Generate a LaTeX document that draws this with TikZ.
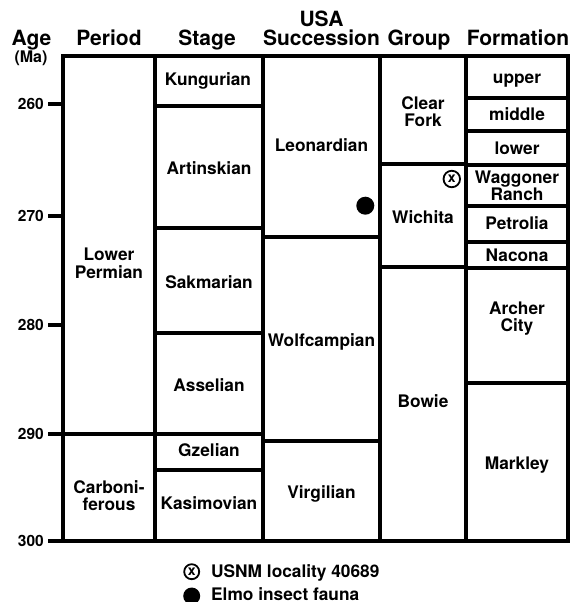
\documentclass[tikz,border=0pt]{standalone}
\usepackage{fontspec}
\setmainfont{TeX Gyre Heros}
\begin{document}
\begin{tikzpicture}[x=1pt,y=-1pt,
  frame/.style={line width=3.3pt, line join=miter},
  lab/.style={font=\fontsize{17.3}{17.3}\selectfont\bfseries, align=center, inner sep=0pt, anchor=base},
  head/.style={font=\fontsize{21}{18.8}\selectfont\bfseries, align=center, inner sep=0pt, anchor=base},
  ticklab/.style={font=\fontsize{15.5}{16}\selectfont\bfseries, inner sep=0pt, anchor=east, text depth=0pt},
  locsym/.style={circle, draw, line width=1.8pt, minimum size=16.5pt, inner sep=0pt, font=\fontsize{14}{14}\selectfont\bfseries},
  dotsym/.style={circle, fill, minimum size=18pt, inner sep=0pt},
]
\useasboundingbox (0,0) rectangle (573,602);

% headers
\node[head] (hAge) at (31.5,46) {Age};
\node[head, font=\fontsize{16}{16}\selectfont\bfseries] (hMa) at (31,63) {(Ma)};
\node[head] (hPeriod) at (109,46) {Period};
\node[head] (hStage) at (207,46) {Stage};
\node[head] (hUSA) at (321.5,45.7) {USA\\Succession};
\node[head] (hGroup) at (419,46) {Group};
\node[head] (hForm) at (518,46) {Formation};

% period
\draw[frame] (63,56) rectangle (155,434);
\draw[frame] (63,434) rectangle (155,541);
% stage
\draw[frame] (155,56) rectangle (263,106);
\draw[frame] (155,106) rectangle (263,228);
\draw[frame] (155,228) rectangle (263,333);
\draw[frame] (155,333) rectangle (263,434);
\draw[frame] (155,434) rectangle (263,470);
\draw[frame] (155,470) rectangle (263,541);
% USA succession
\draw[frame] (263,56) rectangle (380,237);
\draw[frame] (263,237) rectangle (380,441);
\draw[frame] (263,441) rectangle (380,541);
% group
\draw[frame] (380,56) rectangle (466,164);
\draw[frame] (380,164) rectangle (466,267);
\draw[frame] (380,267) rectangle (466,541);
% formation
\draw[frame] (466,56) rectangle (568,98);
\draw[frame] (466,98) rectangle (568,131);
\draw[frame] (466,131) rectangle (568,165);
\draw[frame] (466,165) rectangle (568,206);
\draw[frame] (466,206) rectangle (568,242);
\draw[frame] (466,242) rectangle (568,268);
\draw[frame] (466,268) rectangle (568,383);
\draw[frame] (466,383) rectangle (568,541);

% age ticks
\foreach \a/\y in {260/104,270/216,280/325,290/434,300/541}{
  \coordinate (t\a) at (63,\y);
  \coordinate (te\a) at (48,\y);
  \draw[frame] (t\a) -- (te\a);
  \node[ticklab] (l\a) at (44,\y) {\a};
}

% period labels
\node[lab] (lowperm) at (109,278) {Lower\\Permian};
\node[lab] (carb) at (109,510.7) {Carboni-\\ferous};
% stage labels
\node[lab] (kung) at (208,85) {Kungurian};
\node[lab] (artin) at (209,174) {Artinskian};
\node[lab] (sakm) at (209,288) {Sakmarian};
\node[lab] (assel) at (209,391.7) {Asselian};
\node[lab] (gzel) at (209,456.7) {Gzelian};
\node[lab] (kasim) at (209,509) {Kasimovian};
% USA labels
\node[lab] (leon) at (321.5,151) {Leonardian};
\node[lab] (wolf) at (321.5,346) {Wolfcampian};
\node[lab] (virg) at (321.5,498) {Virgilian};
% group labels
\node[lab] (clear) at (423,126.7) {Clear\\Fork};
\node[lab] (wich) at (423,223.3) {Wichita};
\node[lab] (bowie) at (423,407.7) {Bowie};
% formation labels
\node[lab] (upper) at (517,83) {upper};
\node[lab] (middle) at (517,120.7) {middle};
\node[lab] (lower) at (517,154) {lower};
\node[lab] (wagg) at (517,200.7) {Waggoner\\Ranch};
\node[lab] (petr) at (517,229.3) {Petrolia};
\node[lab] (nacona) at (517,261.7) {Nacona};
\node[lab] (archer) at (517,331.7) {Archer\\City};
\node[lab] (markley) at (517,469.3) {Markley};

% symbols
\node[locsym] (loc) at (451.8,179) {x};
\node[dotsym] (elmo) at (365.3,205.7) {};

% legend
\node[locsym, minimum size=15pt] (legloc) at (191.7,571.7) {x};
\node[lab, anchor=base west] (leglocT) at (211,577.7) {USNM locality 40689};
\node[dotsym, minimum size=17pt] (legdot) at (191.7,596) {};
\node[lab, anchor=base west] (legdotT) at (211,600.5) {Elmo insect fauna};
\end{tikzpicture}
\end{document}
